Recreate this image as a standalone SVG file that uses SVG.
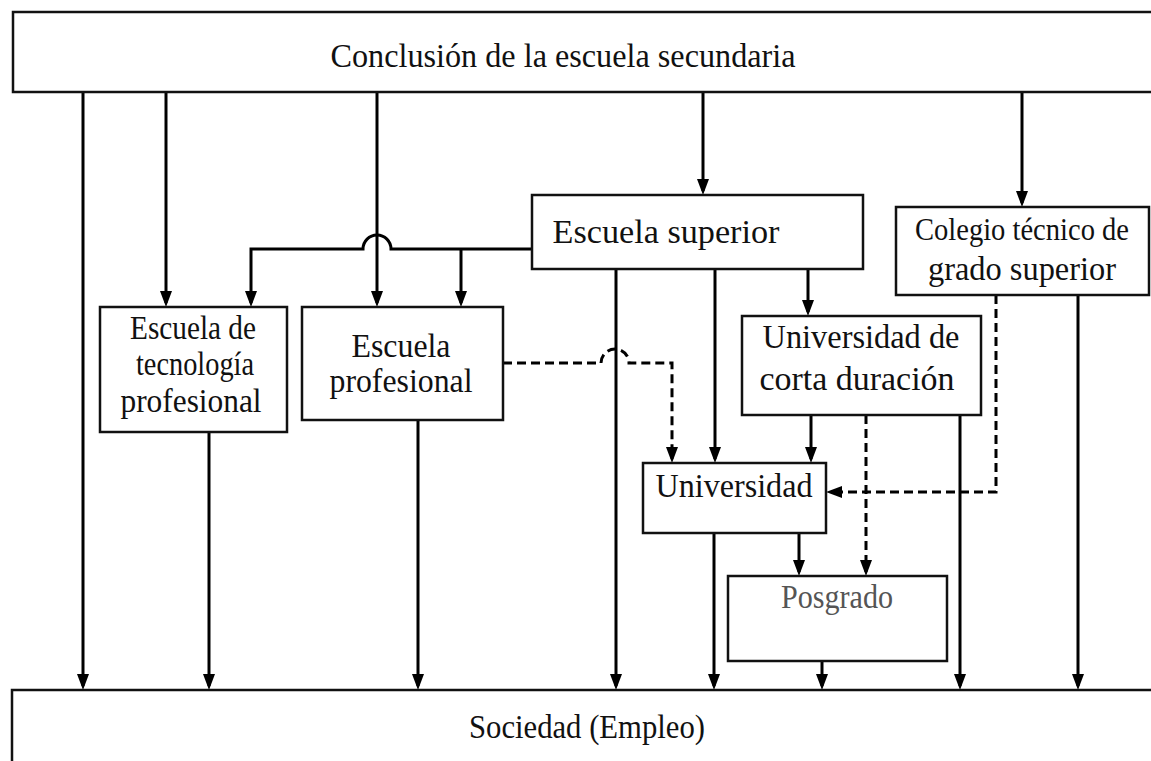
<svg xmlns="http://www.w3.org/2000/svg" width="1151" height="761" viewBox="0 0 1151 761">
<style>
.box{fill:#fff;stroke:#111;stroke-width:2.5}
.t{font-family:"Liberation Serif","Times New Roman",serif;font-size:33px;fill:#111;text-anchor:middle}
.c{fill:none;stroke:#000;stroke-width:3}
.d{fill:none;stroke:#000;stroke-width:3;stroke-dasharray:9 5}
.arr{marker-end:url(#ah)}
</style>
<defs>
<marker id="ah" markerWidth="16" markerHeight="12" refX="12" refY="6" orient="auto" markerUnits="userSpaceOnUse" viewBox="0 0 16 12">
<path d="M0,0 L16,6 L0,12 z" fill="#000" stroke="none"/>
</marker>
</defs>
<rect width="1151" height="761" fill="#fff"/>
<g id="connectors">
<path class="c arr" d="M83,92 V686"/>
<path class="c arr" d="M166,92 V303"/>
<path class="c arr" d="M377,92 V303"/>
<path class="c arr" d="M703,92 V191"/>
<path class="c arr" d="M1022,92 V203"/>
<path class="c arr" d="M532,249 H391 A14,14 0 0 0 363,249 H251 V303"/>
<path class="c arr" d="M461,249 V303"/>
<path class="c arr" d="M616,269 V686"/>
<path class="c arr" d="M715,269 V459"/>
<path class="c arr" d="M808,269 V312"/>
<path class="c arr" d="M209,432 V686"/>
<path class="c arr" d="M418,420 V686"/>
<path class="c arr" d="M811,415 V459"/>
<path class="c arr" d="M960,415 V686"/>
<path class="c arr" d="M1078,295 V686"/>
<path class="c arr" d="M714,533 V686"/>
<path class="c arr" d="M799,533 V572"/>
<path class="c arr" d="M822,661 V686"/>
<path class="d arr" d="M503,363 H601 A14,14 0 0 1 629,363 H672 V459"/>
<path class="d arr" d="M996,295 V492 H830"/>
<path class="d arr" d="M866,415 V572"/>
</g>
<g id="n-conclusion">
<rect class="box" x="13" y="12" width="1160" height="80"/>
<text class="t" x="563" y="67" textLength="465" lengthAdjust="spacingAndGlyphs">Conclusión de la escuela secundaria</text>
</g>
<g id="n-sociedad">
<rect class="box" x="12" y="690" width="1160" height="100"/>
<text class="t" x="587" y="738" textLength="236" lengthAdjust="spacingAndGlyphs">Sociedad (Empleo)</text>
</g>
<g id="n-escuela-superior">
<rect class="box" x="532" y="195" width="331" height="74"/>
<text class="t" x="666" y="243" textLength="227" lengthAdjust="spacingAndGlyphs">Escuela superior</text>
</g>
<g id="n-colegio">
<rect class="box" x="896" y="207" width="253" height="88"/>
<text class="t" x="1022" y="240" textLength="214" lengthAdjust="spacingAndGlyphs" style="font-size:31px">Colegio técnico de</text>
<text class="t" x="1022" y="280" textLength="188" lengthAdjust="spacingAndGlyphs">grado superior</text>
</g>
<g id="n-tecnologia">
<rect class="box" x="100" y="307" width="187" height="125"/>
<text class="t" x="193" y="339" textLength="126" lengthAdjust="spacingAndGlyphs">Escuela de</text>
<text class="t" x="195" y="375" textLength="118" lengthAdjust="spacingAndGlyphs">tecnología</text>
<text class="t" x="191" y="412" textLength="141" lengthAdjust="spacingAndGlyphs">profesional</text>
</g>
<g id="n-profesional">
<rect class="box" x="302" y="307" width="201" height="113"/>
<text class="t" x="401" y="357" textLength="99" lengthAdjust="spacingAndGlyphs">Escuela</text>
<text class="t" x="401" y="392" textLength="143" lengthAdjust="spacingAndGlyphs">profesional</text>
</g>
<g id="n-corta">
<rect class="box" x="742" y="316" width="239" height="99"/>
<text class="t" x="861" y="348" textLength="197" lengthAdjust="spacingAndGlyphs">Universidad de</text>
<text class="t" x="857" y="390" textLength="195" lengthAdjust="spacingAndGlyphs">corta duración</text>
</g>
<g id="n-universidad">
<rect class="box" x="643" y="463" width="183" height="70"/>
<text class="t" x="734" y="497" textLength="157" lengthAdjust="spacingAndGlyphs">Universidad</text>
</g>
<g id="n-posgrado">
<rect class="box" x="728" y="576" width="219" height="85"/>
<text class="t" x="837" y="608" textLength="112" lengthAdjust="spacingAndGlyphs" style="fill:#555">Posgrado</text>
</g>
</svg>
